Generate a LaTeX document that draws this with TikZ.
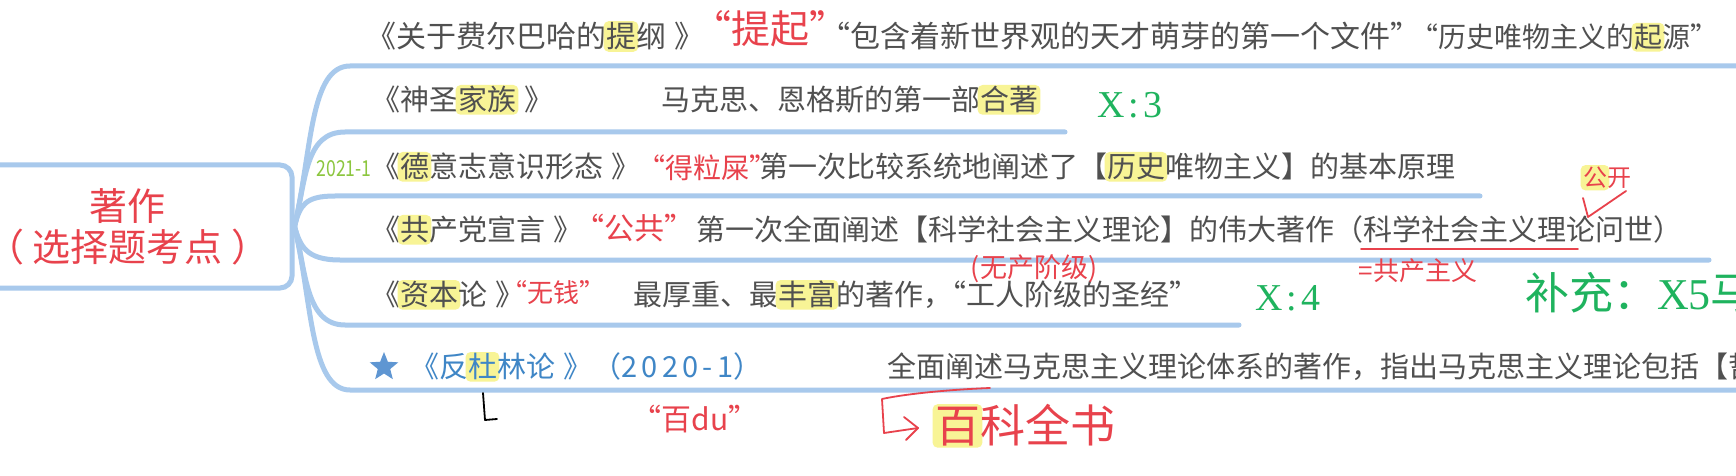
\documentclass[tikz,border=0pt]{standalone}
\usepackage{graphicx}
\usepackage{fontspec}
\setmainfont{Noto Sans CJK SC}
\newfontfamily\serifx{Liberation Serif}
\usetikzlibrary{shapes.geometric,calc}
\definecolor{linebl}{RGB}{168,201,236}
\definecolor{txtgray}{RGB}{80,80,80}
\definecolor{penred}{RGB}{232,66,76}
\definecolor{mkgreen}{RGB}{31,179,94}
\definecolor{ltgreen}{RGB}{140,198,63}
\definecolor{txtblue}{RGB}{63,134,198}
\definecolor{starblue}{RGB}{95,150,210}
\definecolor{hlyellow}{RGB}{248,244,150}
\newcommand\fsz[1]{\fontsize{#1}{#1}\selectfont}
\newcommand\myoq{\makebox[0.5em][r]{“}}
\newcommand\mycq{\makebox[0.5em][l]{”}}
\newcommand\rbk{\kern0.28em》}
\tikzset{
  branch/.style={draw=linebl, line width=2.5pt, line cap=round},
  txt/.style={anchor=west, inner sep=0pt, outer sep=0pt, text height=0.83em, text depth=0.07em, text=txtgray, font=\fsz{14.5pt}},
  hand/.style={inner sep=0pt, outer sep=0pt, text=penred, text height=0.83em, text depth=0.07em},
  pen/.style={draw=penred, line width=0.9pt, line cap=round, line join=round},
  greenmark/.style={inner sep=0pt, outer sep=0pt, text=mkgreen},
  hlbase/.style={inner sep=0pt, outer sep=0pt, anchor=base, text height=0.8em, text depth=0.06em, draw=none, fill=none},
  rootbox/.style={draw=linebl, line width=2.5pt, rounded corners=6pt, minimum width=164pt, minimum height=61.5pt, inner sep=0pt, align=center, text=penred, font=\fontsize{19pt}{20.5pt}\selectfont}
}
\newcommand\hili[1]{\tikz[baseline=(hla.base)]{\node[hlbase](hla){\phantom{#1}};\fill[hlyellow,rounded corners=2.5pt,overlay]([xshift=-1.2pt,yshift=-1.2pt]hla.south west) rectangle ([xshift=1.2pt,yshift=1.2pt]hla.north east);\node[hlbase](hlb) at (hla.base){#1};}}
\begin{document}
\begin{tikzpicture}[x=0.5pt,y=-0.5pt]
\useasboundingbox (0,0) rectangle (1736,476);
\fill[white] (0,0) rectangle (1736,476);
% root
\node[rootbox] (root) at (128,226.5) {著作\\（ 选择题考点 ）};
% line end coordinates
\coordinate (e1) at (1745,66);
\coordinate (e2) at (1065,132);
\coordinate (e3) at (1480,196);
\coordinate (e4) at (1709,260);
\coordinate (e5) at (1239,325);
\coordinate (e6) at (1745,390);
\draw[branch] (root.east) .. controls (312,150) and (310,66) .. (350,66) -- (e1);
\draw[branch] (root.east) .. controls (306,180) and (305,132) .. (345,132) -- (e2);
\draw[branch] (root.east) .. controls (300,205) and (305,196) .. (335,196) -- (e3);
\draw[branch] (root.east) .. controls (300,245) and (305,260) .. (340,260) -- (e4);
\draw[branch] (root.east) .. controls (306,270) and (305,325) .. (345,325) -- (e5);
\draw[branch] (root.east) .. controls (312,300) and (310,390) .. (350,390) -- (e6);
% row 1
\node[txt, font=\fsz{15pt}] (r1a) at (366,40) {《关于费尔巴哈的\hili{提}纲\rbk};
\node[hand, font=\fsz{19.5pt}] (t1) at (770,36) {\myoq 提起\mycq};
\node[txt, font=\fsz{15pt}] (r1b) at (835,40) {\myoq 包含着新世界观的天才萌芽的第一个文件\mycq};
\node[txt, font=\fsz{14pt}] (r1c) at (1424,40) {\myoq 历史唯物主义的\hili{起}源\mycq};
% row 2
\node[txt] (r2a) at (371,103) {《神圣\hili{家族}\rbk};
\node[txt] (r2b) at (661,103) {马克思、恩格斯的第一部\hili{合著}};
\node[greenmark, font=\serifx\fsz{19pt}] (x3) at (1130,105) {X\kern2pt:\kern2pt3};
% row 3
\node[inner sep=0pt, text=ltgreen, font=\fsz{11pt}] (yr) at (344,169) {\scalebox{0.8}[1]{2021-1}};
\node[txt] (r3a) at (371,170) {《\hili{德}意志意识形态\rbk};
\node[hand, font=\fsz{14pt}] (t3) at (707,171) {\myoq 得粒屎\mycq};
\node[txt] (r3b) at (759,170) {第一次比较系统地阐述了【\hili{历史}唯物主义】的基本原理};
% row 4
\node[txt] (r4a) at (371,233) {《\hili{共}产党宣言\rbk};
\node[hand, font=\fsz{15pt}] (t4) at (634,232) {\myoq 公共\mycq};
\node[txt] (r4b) at (696,233) {第一次全面阐述【科学社会主义理论】的伟大著作（科学社会主义理论问世）};
\coordinate (u1) at (1361,249);
\coordinate (u2) at (1578,249);
\draw[pen] (u1) -- (u2);
\node[hand, font=\fsz{12pt}] (gk) at (1607,179) {\hili{公}开};
\draw[pen] (1583,198) -- (1588,217) -- (1626,191);
\node[hand, font=\fsz{13pt}] (gc) at (1418,273) {=共产主义};
% row 5
\node[txt] (r5a) at (371,298) {《\hili{资本}论\rbk};
\node[hand, font=\fsz{13pt}] (t5) at (553,295) {\myoq 无钱\mycq};
\node[txt] (r5b) at (633,298) {最厚重、最\hili{丰富}的著作，\myoq 工人阶级的圣经\mycq};
\node[hand, font=\fsz{13.5pt}] (wc) at (1034,270) {(无产阶级)};
\node[greenmark, font=\serifx\fsz{19pt}] (x4) at (1288,298) {X\kern2pt:\kern2pt4};
\node[greenmark, anchor=west, text height=0.83em, text depth=0.07em, font=\fsz{22pt}] (bc) at (1525,302) {补充：{\serifx X5}马};
% row 6
\node[star, star points=5, star point ratio=2.3, fill=starblue, inner sep=0pt, minimum size=15pt] (favstar) at (384,367) {};
\node[txt, text=txtblue] (r6a) at (410,370) {《反\hili{杜}林论\rbk（{\addfontfeature{LetterSpace=15}2020-1}）};
\node[txt] (r6b) at (887,370) {全面阐述马克思主义理论体系的著作，指出马克思主义理论包括【哲学};
\draw[draw=black, line width=0.9pt, line cap=round, line join=round] (483,393) -- (485,420) -- (497,419);
\node[hand, font=\fsz{15pt}] (bd) at (695,423) {\myoq 百du\mycq};
\draw[pen] (990,388) .. controls (940,390) and (900,395) .. (882,399) -- (884,433) -- (918,428);
\draw[pen] (904,417) -- (918,428) -- (906,440);
\node[hand, anchor=west, font=\fsz{22.5pt}] (bk) at (935,435) {\hili{百}科全书};
\end{tikzpicture}
\end{document}
